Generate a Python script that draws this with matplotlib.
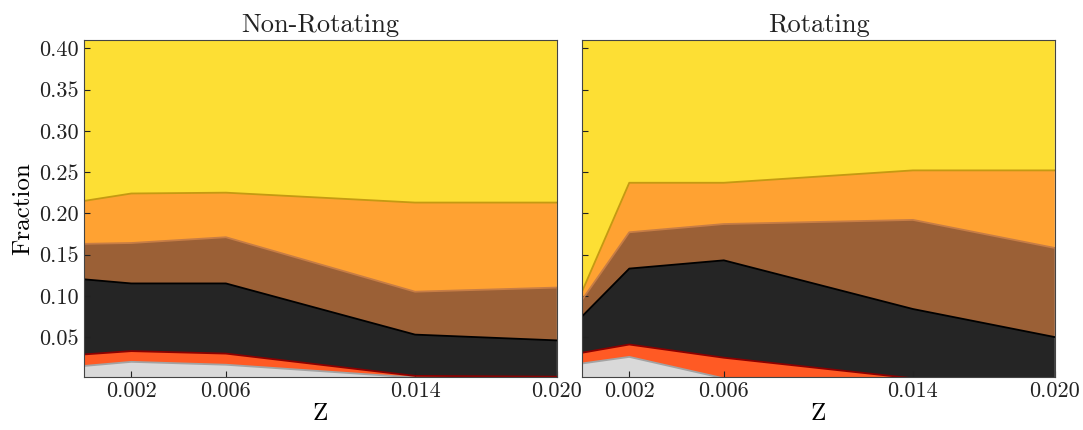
import numpy as np
import matplotlib
matplotlib.use('Agg')
import matplotlib.pyplot as plt

plt.rcParams['font.family'] = 'serif'
plt.rcParams['font.serif'] = ['cmr10', 'DejaVu Serif']
plt.rcParams['mathtext.fontset'] = 'cm'
plt.rcParams['axes.unicode_minus'] = False
plt.rcParams['text.color'] = '#222222'
plt.rcParams['xtick.color'] = '#222222'
plt.rcParams['ytick.color'] = '#222222'

# metallicities
Z = [0.0, 0.002, 0.006, 0.014, 0.020]

# fractions per channel, bottom to top
nonrot_gray = [0.015, 0.020, 0.0165, 0.001, 0.0005]
nonrot_red = [0.014, 0.013, 0.0135, 0.002, 0.0015]
nonrot_black = [0.091, 0.082, 0.085, 0.050, 0.044]
nonrot_brown = [0.043, 0.049, 0.056, 0.052, 0.064]
nonrot_orange = [0.052, 0.060, 0.054, 0.108, 0.103]
nonrot_yellow = [0.785, 0.775, 0.775, 0.787, 0.787]

rot_gray = [0.018, 0.026, 0.0, 0.0, 0.0]
rot_red = [0.013, 0.015, 0.025, 0.0, 0.0]
rot_black = [0.044, 0.092, 0.118, 0.084, 0.050]
rot_brown = [0.020, 0.044, 0.044, 0.108, 0.108]
rot_orange = [0.010, 0.060, 0.050, 0.060, 0.094]
rot_yellow = [0.895, 0.763, 0.762, 0.748, 0.748]

xticks = [0.002, 0.006, 0.014, 0.020]
xticklabels = ['0.002', '0.006', '0.014', '0.020']
yticks = [0.05, 0.10, 0.15, 0.20, 0.25, 0.30, 0.35, 0.40]

fills = ['#d9d9d9', '#ff5a24', '#252525', '#9b6036', '#ffa232', '#fddf34']
edges = ['#a3a3a3', '#8b0000', '#000000', '#c77d45', '#c49a12', '#c49a12']

panels = [
    ('Non-Rotating', [nonrot_gray, nonrot_red, nonrot_black, nonrot_brown,
                      nonrot_orange, nonrot_yellow]),
    ('Rotating', [rot_gray, rot_red, rot_black, rot_brown,
                  rot_orange, rot_yellow]),
]

fig, axes = plt.subplots(1, 2, figsize=(10.83, 4.3), dpi=100, sharey=True)
fig.subplots_adjust(left=0.0776, right=0.974, top=0.907, bottom=0.123,
                    wspace=0.053)

for ax, (title, layers) in zip(axes, panels):
    ax.stackplot(Z, *layers, colors=fills, lw=0)
    tops = np.cumsum(np.array(layers), axis=0)
    for top, ec in zip(tops[:-1], edges):
        ax.plot(Z, top, color=ec, lw=1.3)
    ax.set_xlim(Z[0], Z[-1])
    ax.set_ylim(0.0015, 0.41)
    ax.set_xticks(xticks)
    ax.set_xticklabels(xticklabels)
    ax.set_yticks(yticks)
    ax.set_title(title, fontsize=19, pad=6)
    ax.set_xlabel('Z', fontsize=18, labelpad=1)
    ax.tick_params(direction='in', length=4, labelsize=16)
    for sp in ax.spines.values():
        sp.set_color('#444444')

axes[0].set_yticklabels(['%.2f' % t for t in yticks])
axes[0].set_ylabel('Fraction', fontsize=18)

fig.savefig('out.png', dpi=100)
